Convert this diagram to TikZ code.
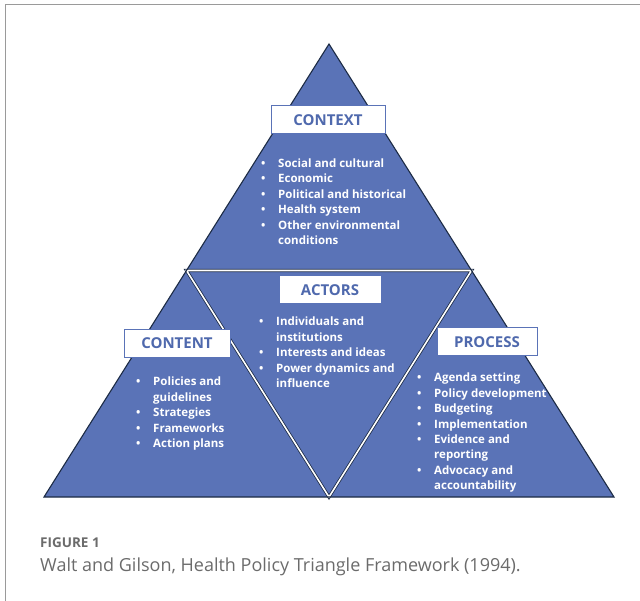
\documentclass[tikz,border=0pt]{standalone}
\usepackage{fontspec}
\setmainfont{Open Sans}
\newfontfamily\capfont{Open Sans}
\definecolor{tri}{HTML}{5A73B7}
\definecolor{edge}{HTML}{1C2B45}
\definecolor{lbl}{HTML}{4F69AD}
\definecolor{frame}{HTML}{9A9A9A}
\definecolor{capc}{HTML}{6B6B6B}
\newcommand\itm[1]{\makebox[17pt][l]{\textbullet}#1}
\newcommand\cnt[1]{\makebox[17pt][l]{}#1}
\tikzset{
  labelbox/.style={draw=tri, line width=1pt, fill=white, text=lbl, font=\fontsize{15}{18}\selectfont\bfseries, minimum height=28pt, inner sep=0pt},
  bullets/.style={text=white, font=\fontsize{11.5}{15.4}\selectfont\bfseries, align=left, anchor=north west, inner sep=0pt},
}
\begin{document}
\begin{tikzpicture}[x=1pt,y=-1pt]
\useasboundingbox (0,0) rectangle (640,601);
\draw[frame, line width=1pt] (5,601) -- (5,5) -- (640,5);
\coordinate (A) at (329,44);
\coordinate (BL) at (44,497);
\coordinate (BR) at (614,497);
\coordinate (ML) at (186.5,270.5);
\coordinate (MR) at (471.5,270.5);
\coordinate (MB) at (329,497);
\fill[tri] (A) -- (BL) -- (BR) -- cycle;
\draw[edge, line width=0.8pt, double=white, double distance=1.6pt] (ML) -- (MR) -- (MB) -- cycle;
\draw[edge, line width=1.1pt, line join=miter] (A) -- (BL) -- (BR) -- cycle;

\node[labelbox, minimum width=114pt] (ctx) at (328,120) {CONTEXT};
\node[labelbox, minimum width=102pt] (act) at (330,290) {ACTORS};
\node[labelbox, minimum width=106pt] (cnt) at (177,343.5) {CONTENT};
\node[labelbox, minimum width=100pt] (prc) at (487,342) {PROCESS};

\node[bullets] (ctxl) at (261,158.5) {\itm{Social and cultural}\\ \itm{Economic}\\ \itm{Political and historical}\\ \itm{Health system}\\ \itm{Other environmental}\\ \cnt{conditions}};
\node[bullets] (actl) at (259,317) {\itm{Individuals and}\\ \cnt{institutions}\\ \itm{Interests and ideas}\\ \itm{Power dynamics and}\\ \cnt{influence}};
\node[bullets] (cntl) at (136,377) {\itm{Policies and}\\ \cnt{guidelines}\\ \itm{Strategies}\\ \itm{Frameworks}\\ \itm{Action plans}};
\node[bullets] (prcl) at (417,373) {\itm{Agenda setting}\\ \itm{Policy development}\\ \itm{Budgeting}\\ \itm{Implementation}\\ \itm{Evidence and}\\ \cnt{reporting}\\ \itm{Advocacy and}\\ \cnt{accountability}};

\node[anchor=west, inner sep=0pt, text=capc, font=\capfont\fontsize{13.5}{16}\selectfont\bfseries] (fig) at (40,543) {FIGURE 1};
\node[anchor=west, inner sep=0pt, text=capc, font=\capfont\fontsize{18}{22}\selectfont] (cap) at (40,567) {Walt and Gilson, Health Policy Triangle Framework (1994).};
\end{tikzpicture}
\end{document}
